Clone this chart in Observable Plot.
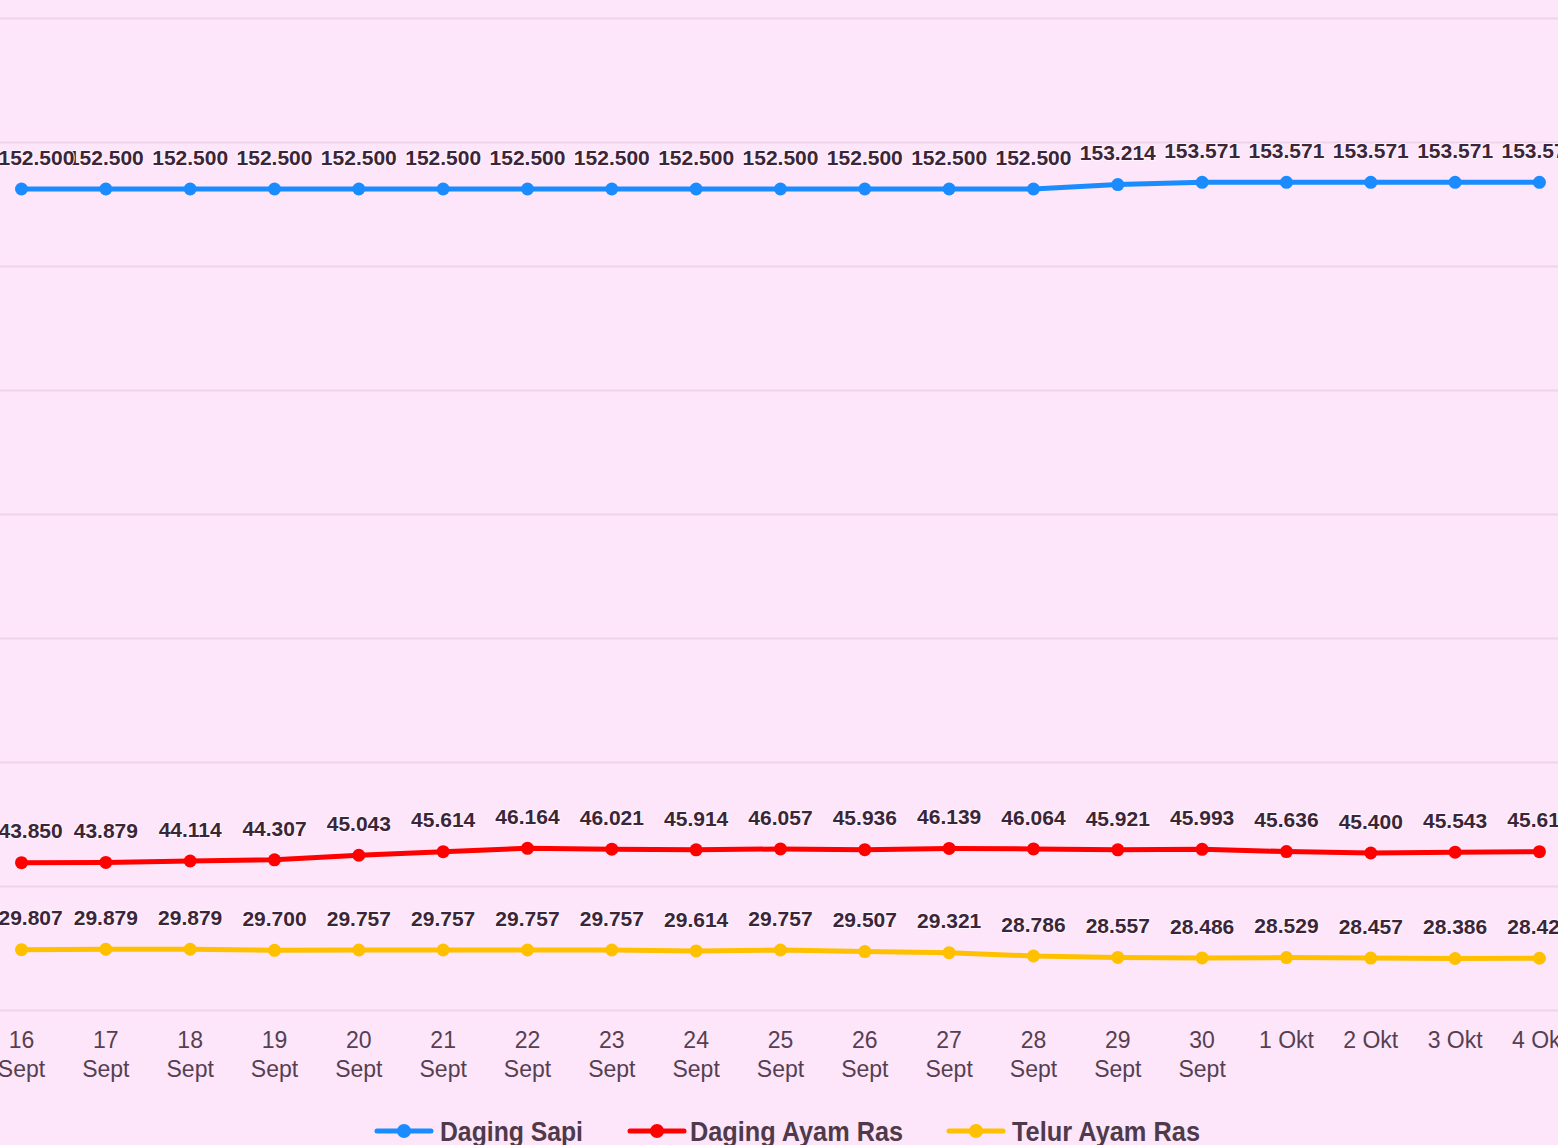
<!DOCTYPE html>
<html>
<head>
<meta charset="utf-8">
<script src="https://cdn.jsdelivr.net/npm/d3@7"></script>
<script src="https://cdn.jsdelivr.net/npm/@observablehq/plot@0.6"></script>
<style>
  html, body { margin: 0; padding: 0; overflow: hidden; background: #fde6f9; }
  #wrap { position: relative; width: 1558px; height: 1145px; overflow: hidden; background: #fde6f9; }
  #chart svg { display: block; max-width: none; }
  #legend { position: absolute; left: 0; top: 1112px; width: 1558px; height: 33px; display: block; }
</style>
</head>
<body>
<div id="wrap">
  <div id="chart"></div>
  <svg id="legend" width="1558" height="33"></svg>
</div>
<script>
const dates = ["16 Sept","17 Sept","18 Sept","19 Sept","20 Sept","21 Sept","22 Sept","23 Sept","24 Sept","25 Sept","26 Sept","27 Sept","28 Sept","29 Sept","30 Sept","1 Okt","2 Okt","3 Okt","4 Okt"];
const tickLabels = ["16\nSept","17\nSept","18\nSept","19\nSept","20\nSept","21\nSept","22\nSept","23\nSept","24\nSept","25\nSept","26\nSept","27\nSept","28\nSept","29\nSept","30\nSept","1 Okt","2 Okt","3 Okt","4 Okt"];
const seriesNames = ["Daging Sapi", "Daging Ayam Ras", "Telur Ayam Ras"];
const seriesColors = ["#1a8cff", "#ff0000", "#ffc000"];
const dagingSapi = [152500,152500,152500,152500,152500,152500,152500,152500,152500,152500,152500,152500,152500,153214,153571,153571,153571,153571,153571];
const dagingAyamRas = [43850,43879,44114,44307,45043,45614,46164,46021,45914,46057,45936,46139,46064,45921,45993,45636,45400,45543,45614];
const telurAyamRas = [29807,29879,29879,29700,29757,29757,29757,29757,29614,29757,29507,29321,28786,28557,28486,28529,28457,28386,28429];
const gridValues = [20000,40000,60000,80000,100000,120000,140000,160000,180000];

const seriesValues = [dagingSapi, dagingAyamRas, telurAyamRas];
const rows = [];
seriesNames.forEach((name, s) => {
  seriesValues[s].forEach((v, i) => rows.push({i, date: dates[i], series: name, value: v}));
});
const fmt = v => d3.format(",")(v).replace(/,/g, ".");

const W = 1558, H = 1112;
const labelStyle = {
  fontSize: 21, fontWeight: "bold", fontFamily: "Liberation Sans, Arial, sans-serif",
  fill: "#3b2538", stroke: "#fff4fd", strokeWidth: 2
};
const chart = Plot.plot({
  width: W,
  height: H,
  marginLeft: 0,
  marginRight: 0,
  marginTop: 18,
  marginBottom: H - 1010,
  style: { background: "#fde6f9", overflow: "hidden" },
  x: { type: "linear", domain: [-21 / 84.33, 1537 / 84.33], axis: null },
  y: { domain: [20000, 180000], axis: null },
  color: { domain: seriesNames, range: seriesColors },
  marks: [
    Plot.gridY(gridValues, { stroke: "#efd4ea", strokeOpacity: 1, strokeWidth: 2 }),
    Plot.axisX(d3.range(dates.length), {
      label: null,
      tickSize: 0, tickPadding: 17, fontSize: 23, lineHeight: 1.27,
      fontFamily: "Liberation Sans, Arial, sans-serif", fill: "#553f52",
      tickFormat: i => tickLabels[i]
    }),
    Plot.line(rows, { x: "i", y: "value", z: "series", stroke: "series", strokeWidth: 5 }),
    Plot.dot(rows, { x: "i", y: "value", fill: "series", r: 6.5 }),
    // labels: the first one is pushed inside the left edge, as in the source chart
    Plot.text(rows.filter(d => d.i > 0), {
      x: "i", y: "value", text: d => fmt(d.value), dy: -31, ...labelStyle
    }),
    Plot.text(rows.filter(d => d.i === 0), {
      x: "i", y: "value", text: d => fmt(d.value), dy: -31, dx: -23, textAnchor: "start", ...labelStyle
    })
  ]
});
document.getElementById("chart").appendChild(chart);

// legend (HTML/SVG below the chart)
const legendLayout = [
  { swatch: 375, text: 440, width: 143 },
  { swatch: 628, text: 690, width: 213 },
  { swatch: 947, text: 1012, width: 188 }
];
const NS = "http://www.w3.org/2000/svg";
const legend = document.getElementById("legend");
seriesNames.forEach((name, s) => {
  const L = legendLayout[s];
  const line = document.createElementNS(NS, "line");
  line.setAttribute("x1", L.swatch + 2); line.setAttribute("x2", L.swatch + 56);
  line.setAttribute("y1", 19); line.setAttribute("y2", 19);
  line.setAttribute("stroke", seriesColors[s]); line.setAttribute("stroke-width", 5);
  line.setAttribute("stroke-linecap", "round");
  legend.appendChild(line);
  const c = document.createElementNS(NS, "circle");
  c.setAttribute("cx", L.swatch + 29); c.setAttribute("cy", 19); c.setAttribute("r", 7);
  c.setAttribute("fill", seriesColors[s]);
  legend.appendChild(c);
  const t = document.createElementNS(NS, "text");
  t.setAttribute("x", L.text); t.setAttribute("y", 29);
  t.setAttribute("textLength", L.width); t.setAttribute("lengthAdjust", "spacingAndGlyphs");
  t.setAttribute("font-family", "Liberation Sans, Arial, sans-serif");
  t.setAttribute("font-weight", "bold"); t.setAttribute("font-size", 28);
  t.setAttribute("fill", "#4f3a4b");
  t.textContent = name;
  legend.appendChild(t);
});
</script>
</body>
</html>
